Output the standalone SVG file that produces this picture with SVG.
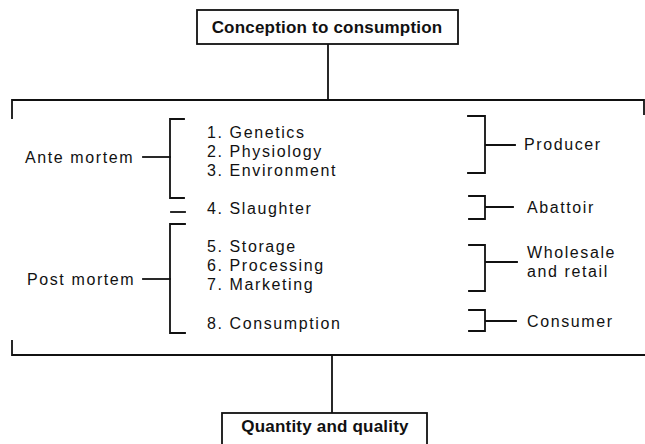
<svg xmlns="http://www.w3.org/2000/svg" width="645" height="444" viewBox="0 0 645 444">
<style>
  .ln{fill:none;stroke:#111;stroke-width:1.8;stroke-linecap:square;stroke-linejoin:miter}
  .box{fill:#fff;stroke:#111;stroke-width:1.8}
  .t{font-family:"Liberation Sans",Arial,sans-serif;font-size:16px;letter-spacing:1.6px;fill:#111}
  .b{font-family:"Liberation Sans",Arial,sans-serif;font-size:17px;font-weight:bold;letter-spacing:0.2px;fill:#111;text-anchor:middle}
</style>
<rect width="645" height="444" fill="#fff"/>
<g id="connectors">
  <path class="ln" d="M328,44 V100"/>
  <path class="ln" d="M12,118 V100 H644 V114"/>
  <path class="ln" d="M12,341 V355 H645"/>
  <path class="ln" d="M332,355 V413"/>
  <path class="ln" d="M184,119 H170 V198 H184"/>
  <path class="ln" d="M143,157 H170"/>
  <path class="ln" d="M171,212 H185"/>
  <path class="ln" d="M185,224 H170 V333 H185"/>
  <path class="ln" d="M143,279 H170"/>
  <path class="ln" d="M468,116 H485 V173 H468 M485,145 H515"/>
  <path class="ln" d="M469,196 H485 V219 H469 M485,207 H513"/>
  <path class="ln" d="M469,245 H485 V291 H469 M485,262 H517"/>
  <path class="ln" d="M469,310 H485 V331 H469 M485,321 H516"/>
</g>
<g id="top">
  <rect class="box" x="197" y="10" width="261" height="34"/>
  <text class="b" x="327" y="33">Conception to consumption</text>
</g>
<g id="ante">
  <text class="t" x="25" y="163">Ante mortem</text>
</g>
<g id="post">
  <text class="t" x="27" y="285">Post mortem</text>
</g>
<g id="items">
  <text class="t" x="207" y="138">1. Genetics</text>
  <text class="t" x="207" y="157">2. Physiology</text>
  <text class="t" x="207" y="176">3. Environment</text>
  <text class="t" x="207" y="214">4. Slaughter</text>
  <text class="t" x="207" y="252">5. Storage</text>
  <text class="t" x="207" y="271">6. Processing</text>
  <text class="t" x="207" y="290">7. Marketing</text>
  <text class="t" x="207" y="329">8. Consumption</text>
</g>
<g id="producer"><text class="t" x="524" y="150">Producer</text></g>
<g id="abattoir"><text class="t" x="527" y="213">Abattoir</text></g>
<g id="wholesale"><text class="t" x="527" y="258">Wholesale</text><text class="t" x="527" y="277">and retail</text></g>
<g id="consumer"><text class="t" x="527" y="327">Consumer</text></g>
<g id="bottom">
  <rect class="box" x="222" y="413" width="205" height="40"/>
  <text class="b" x="325" y="432">Quantity and quality</text>
</g>
</svg>
